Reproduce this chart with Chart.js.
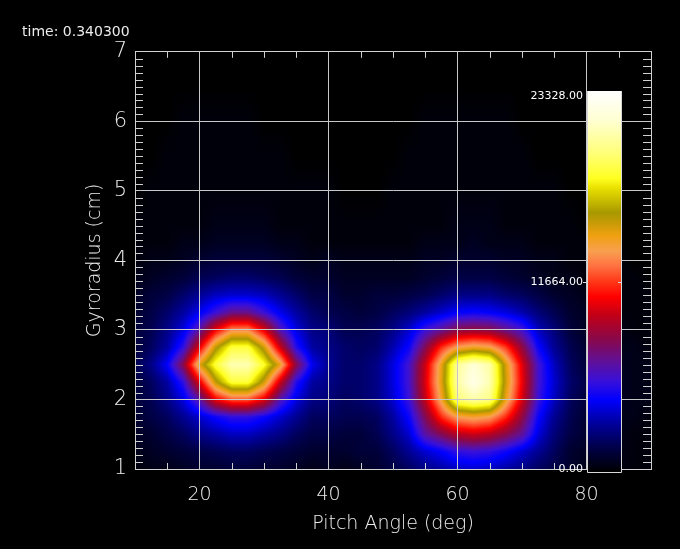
<!DOCTYPE html>
<html><head><meta charset="utf-8">
<script src="https://cdn.jsdelivr.net/npm/chart.js@4.4.1/dist/chart.umd.min.js"></script>
<style>html,body{margin:0;padding:0;background:#000;}#wrap{width:680px;height:549px;}</style>
</head><body><div id="wrap"><canvas id="c" width="680" height="549"></canvas></div>
<script>
// ---- data ----
const titleText = 'time: 0.340300';
const xAxisTitle = 'Pitch Angle (deg)';
const yAxisTitle = 'Gyroradius (cm)';
const xTickLabels = [20, 40, 60, 80];
const yTickLabels = [1, 2, 3, 4, 5, 6, 7];
const colorbarMax = 23328;
const colorbarLabels = ['23328.00', '11664.00', '0.00'];
// grid nodes (pitch angle in deg, gyroradius in cm)
const pitchAngles = [10,12.5,15,17.5,20,22.5,25,27.5,30,32.5,35,37.5,40,42.5,45,47.5,50,52.5,55,57.5,60,62.5,65,67.5,70,72.5,75,77.5,80,82.5,85,87.5,90];
const gyroradii = [1,1.25,1.5,1.75,2,2.25,2.5,2.75,3,3.25,3.5,3.75,4,4.25,4.5,5,5.5,6,6.5,7];
// intensity at each node, percent of colorbarMax, one row per gyroradius
const r100 = [1,2,2,3,4,4,5,5,4,4,3,2,3,2,3,4,6,8,11,13,15,16,15,13,11,8,6,4,2,2,1,1,1];
const r125 = [2,3,4,5,6,7,8,8,7,6,5,4,4,4,5,5,8,12,16,19,23,24,23,20,16,12,8,4,3,2,2,1,1];
const r150 = [3,4,6,8,11,13,15,15,13,11,8,6,6,5,5,7,11,16,28,34,40,42,40,35,29,17,10,6,4,3,2,1,1];
const r175 = [4,6,8,12,16,20,23,23,20,16,12,8,8,7,7,8,13,20,34,49,58,60,58,49,36,20,12,7,4,3,2,2,1];
const r200 = [5,7,11,17,28,45,52,52,44,27,17,11,10,8,9,11,16,24,41,60,84,88,85,62,43,24,15,8,5,4,3,2,2];
const r225 = [5,8,13,23,44,66,79,79,65,42,22,13,11,9,9,11,17,25,43,63,88,96,89,65,45,25,16,9,6,4,3,2,2];
const r250 = [7,11,19,35,63,79,89,89,78,62,35,18,12,9,9,11,17,25,42,62,87,93,88,64,44,25,15,8,5,4,3,2,2];
const r275 = [5,8,13,23,44,66,79,79,65,42,22,13,11,9,8,9,14,20,34,49,58,61,59,50,36,20,12,7,4,3,2,2,1];
const r300 = [5,7,11,17,28,45,56,56,44,27,17,11,10,7,7,8,11,16,24,29,35,36,35,30,25,15,10,5,3,3,2,1,1];
const r325 = [4,6,9,13,18,24,30,30,24,18,13,9,7,6,5,6,8,10,13,16,19,20,19,17,14,10,7,4,3,2,1,1,1];
const r350 = [3,5,6,9,12,15,16,16,15,12,9,6,6,4,4,5,5,6,7,9,11,11,11,9,8,6,4,3,2,1,1,1,1];
const r375 = [2,3,4,5,7,8,9,9,8,7,5,4,4,3,3,3,3,3,4,5,6,6,6,5,4,3,2,2,1,1,1,1,0];
const r400 = [1,2,2,3,4,5,5,5,5,4,3,2,3,2,2,2,2,2,3,3,4,4,4,3,3,2,2,1,1,1,1,0,0];
const r425 = [1,1,1,2,2,3,3,3,3,2,2,1,1,1,1,1,1,1,2,2,2,3,2,2,2,1,1,1,1,1,0,0,0];
const r450 = [1,1,1,1,1,2,2,2,2,1,1,1,1,1,1,1,1,1,1,1,2,2,2,1,1,1,1,1,0,0,0,0,0];
const r500 = [0,1,1,1,1,1,1,1,1,1,1,1,1,0,0,0,1,1,1,1,1,1,1,1,1,1,1,0,0,0,0,0,0];
const r550 = [0,0,1,1,1,1,1,1,1,1,0,0,0,0,0,0,0,1,1,1,1,1,1,1,1,0,0,0,0,0,0,0,0];
const r600 = [0,0,0,1,1,1,1,1,0,0,0,0,0,0,0,0,0,0,1,1,1,1,1,1,0,0,0,0,0,0,0,0,0];
const r650 = [0,0,0,0,0,0,0,0,0,0,0,0,0,0,0,0,0,0,0,0,0,0,0,0,0,0,0,0,0,0,0,0,0];
const r700 = [0,0,0,0,0,0,0,0,0,0,0,0,0,0,0,0,0,0,0,0,0,0,0,0,0,0,0,0,0,0,0,0,0];
const intensityRows = [r100,r125,r150,r175,r200,r225,r250,r275,r300,r325,r350,r375,r400,r425,r450,r500,r550,r600,r650,r700];

// ---- colour table (fraction -> rgb) ----
const cmapStops = [
  [0.00,[0,0,0]],[0.07,[0,0,80]],[0.13,[0,0,160]],[0.19,[0,0,255]],[0.24,[58,16,216]],
  [0.29,[96,16,152]],[0.35,[138,8,72]],[0.41,[192,0,24]],[0.46,[255,0,0]],[0.50,[255,56,24]],
  [0.54,[255,112,64]],[0.58,[248,160,80]],[0.62,[240,160,16]],[0.68,[168,152,0]],[0.745,[232,224,0]],
  [0.77,[255,255,32]],[0.83,[255,255,112]],[0.92,[255,255,208]],[1.00,[255,255,255]]
];
function colormap(f){
  if (f<=0) return cmapStops[0][1];
  if (f>=1) return cmapStops[cmapStops.length-1][1];
  for (let k=0;k<cmapStops.length-1;k++){
    const [f0,c0]=cmapStops[k],[f1,c1]=cmapStops[k+1];
    if (f>=f0 && f<=f1){const t=(f-f0)/(f1-f0);return [c0[0]+(c1[0]-c0[0])*t,c0[1]+(c1[1]-c0[1])*t,c0[2]+(c1[2]-c0[2])*t];}
  }
  return [255,255,255];
}
function findIdx(arr,v){
  if (v<=arr[0]) return [0,0];
  for (let k=0;k<arr.length-1;k++){ if (v<=arr[k+1]) return [k,(v-arr[k])/(arr[k+1]-arr[k])]; }
  return [arr.length-2,1];
}
function valueAt(xv,yv){
  const [ci,tx]=findIdx(pitchAngles,xv), [ri,ty]=findIdx(gyroradii,yv);
  const a=intensityRows[ri], b=intensityRows[ri+1];
  const v0=a[ci]+(a[ci+1]-a[ci])*tx, v1=b[ci]+(b[ci+1]-b[ci])*tx;
  return (v0+(v1-v0)*ty)/100;
}

const FONT='DejaVu Sans';
const TXT='#ececec';

const heatmapPlugin = {
  id:'heatmap',
  beforeDraw(chart){
    const {ctx, chartArea:a, scales:{x,y}} = chart;
    ctx.save(); ctx.fillStyle='#000'; ctx.fillRect(0,0,chart.width,chart.height); ctx.restore();
    const L=Math.round(a.left), T=Math.round(a.top), R=Math.round(a.right), B=Math.round(a.bottom);
    const w=R-L, h=B-T, img=ctx.createImageData(w,h);
    for (let j=0;j<h;j++){
      const yv=y.getValueForPixel(T+j+0.5);
      for (let i=0;i<w;i++){
        const xv=x.getValueForPixel(L+i+0.5);
        const c=colormap(valueAt(xv,yv));
        const p=(j*w+i)*4; img.data[p]=c[0]; img.data[p+1]=c[1]; img.data[p+2]=c[2]; img.data[p+3]=255;
      }
    }
    ctx.putImageData(img,L,T);
  },
  afterDraw(chart){
    const {ctx, chartArea:a, scales:{x,y}} = chart;
    ctx.save();
    ctx.strokeStyle='#d0d0d0'; ctx.lineWidth=1;
    ctx.beginPath();
    for (let k=11;k<70;k++){ if (k%10===0) continue; const py=Math.round(y.getPixelForValue(k/10))+0.5;
      ctx.moveTo(a.left,py); ctx.lineTo(a.left+8,py); ctx.moveTo(a.right,py); ctx.lineTo(a.right-8,py); }
    for (let v=15; v<90; v+=5){ if (xTickLabels.includes(v)) continue; const px=Math.round(x.getPixelForValue(v))+0.5;
      ctx.moveTo(px,a.bottom); ctx.lineTo(px,a.bottom-6); ctx.moveTo(px,a.top); ctx.lineTo(px,a.top+6); }
    ctx.stroke();
    // colorbar
    const cl=Math.round(x.getPixelForValue(80)), cr=Math.round(x.getPixelForValue(85.3));
    const ct=Math.round(y.getPixelForValue(6.44)), cb=Math.round(a.bottom)+3;
    for (let py=ct; py<cb; py++){
      const c=colormap((cb-py-0.5)/(cb-ct));
      ctx.fillStyle='rgb('+c.map(Math.round).join(',')+')'; ctx.fillRect(cl,py,cr-cl,1);
    }
    ctx.strokeStyle='#d8d8d8';
    ctx.beginPath(); ctx.moveTo(cl+0.5,ct); ctx.lineTo(cl+0.5,cb+0.5); ctx.lineTo(cr+0.5,cb+0.5); ctx.lineTo(cr+0.5,ct); ctx.stroke();
    const mid=(ct+cb)/2;
    ctx.beginPath(); ctx.moveTo(cl-4,Math.round(mid)+0.5); ctx.lineTo(cl+1,Math.round(mid)+0.5);
    ctx.moveTo(cr-3,Math.round(mid)+0.5); ctx.lineTo(cr+1,Math.round(mid)+0.5); ctx.stroke();
    ctx.fillStyle='#ffffff'; ctx.font='11px '+FONT; ctx.textAlign='right'; ctx.textBaseline='middle';
    ctx.fillText(colorbarLabels[0], cl-4, ct+5);
    ctx.fillText(colorbarLabels[1], cl-4, mid+1);
    ctx.fillText(colorbarLabels[2], cl-4, cb-3);
    ctx.restore();
  }
};

new Chart(document.getElementById('c'), {
  type:'scatter',
  data:{datasets:[{data:[], pointRadius:0}]},
  plugins:[heatmapPlugin],
  options:{
    responsive:false, animation:false, devicePixelRatio:1,
    layout:{padding:{left:22,right:29,top:22,bottom:0}},
    plugins:{
      legend:{display:false}, tooltip:{enabled:false},
      title:{display:true,text:titleText,align:'start',color:TXT,font:{family:FONT,size:14,weight:'normal'},padding:{top:2,bottom:11}}
    },
    scales:{
      x:{type:'linear',min:10,max:90,
        afterFit:(s)=>{s.height=80;},
        ticks:{stepSize:10,autoSkip:false,maxRotation:0,color:TXT,padding:15,font:{family:FONT,size:19,weight:'200'},
          callback:(v)=>xTickLabels.includes(v)?String(v):''},
        grid:{drawTicks:false,color:(c)=>xTickLabels.includes(c.tick&&c.tick.value)?'#c8c8c8':'rgba(0,0,0,0)'},
        border:{display:true,color:'#d0d0d0'},
        title:{display:true,text:xAxisTitle,color:TXT,font:{family:FONT,size:19,weight:'200'},padding:{top:0,bottom:14}}
      },
      y:{type:'linear',min:1,max:7,
        afterFit:(s)=>{s.width=113;},
        ticks:{stepSize:1,color:TXT,padding:8,font:{family:FONT,size:21,weight:'200'},
          callback:(v)=>yTickLabels.includes(v)?String(v):''},
        grid:{drawTicks:false,color:(c)=>{const v=c.tick&&c.tick.value;return (v>1&&v<7)?'#c8c8c8':'rgba(0,0,0,0)';}},
        border:{display:true,color:'#d0d0d0'},
        title:{display:true,text:yAxisTitle,color:TXT,font:{family:FONT,size:19,weight:'200'},padding:{top:62,bottom:0}}
      },
      x2:{type:'linear',position:'top',min:10,max:90,display:true,afterFit:(s)=>{s.height=0;},
        ticks:{display:false},grid:{display:false,drawTicks:false},border:{display:true,color:'#d0d0d0'}},
      y2:{type:'linear',position:'right',min:1,max:7,display:true,afterFit:(s)=>{s.width=0;},
        ticks:{display:false},grid:{display:false,drawTicks:false},border:{display:true,color:'#d0d0d0'}}
    }
  }
});
</script></body></html>
